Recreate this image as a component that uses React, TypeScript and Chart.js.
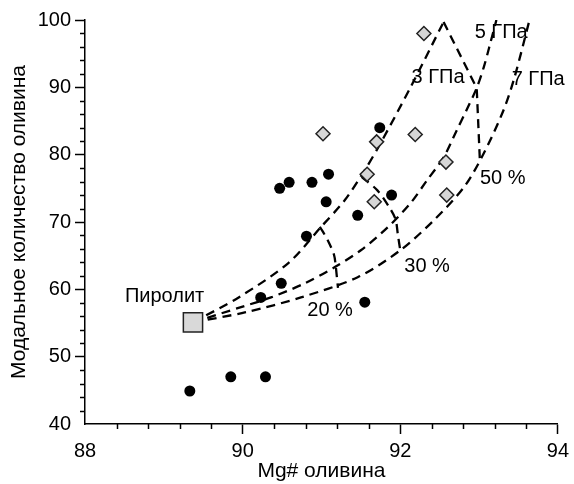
import React, { useEffect, useRef } from "react";
import { Chart, registerables } from "chart.js";

Chart.register(...registerables);

// ---- data ----
const PYROLITE_X = [89.37];
const PYROLITE_Y = [55.1];

const DOT_X = [89.33, 89.85, 90.29, 90.23, 90.49, 90.81, 91.06, 91.46, 91.55, 90.47, 90.59, 90.88, 91.09, 91.74, 91.89];
const DOT_Y = [44.9, 47.0, 47.0, 58.8, 60.9, 67.9, 73.0, 71.0, 58.1, 75.0, 75.9, 75.9, 77.1, 84.0, 74.0];

const DIAMOND_X = [91.02, 92.3, 91.7, 92.19, 91.58, 92.58, 91.67, 92.59];
const DIAMOND_Y = [83.1, 98.0, 81.9, 83.0, 77.1, 78.9, 73.0, 74.0];

// pressure curves (3, 5, 7 GPa)
const P3_X = [89.37, 89.95, 90.58, 90.99, 91.3, 91.55, 91.75, 92.13, 92.55];
const P3_Y = [55.1, 58.8, 63.9, 69.2, 73.3, 77.7, 81.7, 90.0, 99.7];
const P5_X = [89.37, 89.99, 90.36, 90.79, 91.17, 91.5, 91.84, 92.13, 92.34, 92.55, 92.72, 92.84, 92.97, 93.06, 93.13, 93.22];
const P5_Y = [55.1, 57.4, 58.8, 60.9, 63.3, 65.8, 69.2, 72.8, 76.2, 79.6, 83.7, 86.6, 89.9, 93.0, 96.0, 100.0];
const P7_X = [89.37, 90.04, 90.74, 91.46, 92.0, 92.43, 92.81, 93.06, 93.31, 93.45, 93.64];
const P7_Y = [55.1, 56.6, 58.8, 61.8, 65.8, 70.3, 75.2, 80.2, 86.6, 91.5, 100.0];

// melting-degree isopleths (20, 30, 50 %)
const F20_X = [90.98, 91.08, 91.16, 91.18, 91.21];
const F20_Y = [69.3, 67.3, 65.1, 63.6, 60.2];
const F30_X = [91.51, 91.71, 91.86, 91.94, 91.97, 92.0];
const F30_Y = [76.7, 74.7, 72.2, 70.4, 68.1, 65.8];
const F50_X = [92.55, 92.97, 93.01];
const F50_Y = [99.7, 89.9, 79.2];

// in-plot labels (data coordinates)
const LABEL_TEXT = ["Пиролит", "3 ГПа", "5 ГПа", "7 ГПа", "50 %", "30 %", "20 %"];
const LABEL_X = [89.01, 92.48, 93.28, 93.75, 93.3, 92.34, 91.11];
const LABEL_Y = [59.0, 91.5, 98.1, 91.1, 76.4, 63.4, 56.9];

const X_TICKS = [88, 90, 92, 94];
const Y_TICKS = [40, 50, 60, 70, 80, 90, 100];
const X_MINOR_STEP = 0.4;
const Y_MINOR_STEP = 2;

const FONT = "'Liberation Sans', Arial, sans-serif";

const zip = (xs: number[], ys: number[]) => xs.map((x, i) => ({ x, y: ys[i] }));

const minorTicksPlugin = {
  id: "minorTicks",
  afterDraw(chart: any) {
    const { ctx, scales } = chart;
    const x = scales.x;
    const y = scales.y;
    ctx.save();
    ctx.strokeStyle = "#000";
    ctx.lineWidth = 1.5;
    const nx = Math.round((x.max - x.min) / X_MINOR_STEP);
    for (let i = 1; i < nx; i++) {
      const v = x.min + i * X_MINOR_STEP;
      if (X_TICKS.some((t) => Math.abs(t - v) < 1e-6)) continue;
      const px = Math.round(x.getPixelForValue(v)) + 0.5;
      ctx.beginPath();
      ctx.moveTo(px, x.top);
      ctx.lineTo(px, x.top + 5);
      ctx.stroke();
    }
    const ny = Math.round((y.max - y.min) / Y_MINOR_STEP);
    for (let i = 1; i < ny; i++) {
      const v = y.min + i * Y_MINOR_STEP;
      if (Y_TICKS.some((t) => Math.abs(t - v) < 1e-6)) continue;
      const py = Math.round(y.getPixelForValue(v)) + 0.5;
      ctx.beginPath();
      ctx.moveTo(y.right, py);
      ctx.lineTo(y.right - 5, py);
      ctx.stroke();
    }
    ctx.restore();
  },
};

const labelsPlugin = {
  id: "plotLabels",
  afterDatasetsDraw(chart: any) {
    const { ctx, scales } = chart;
    ctx.save();
    ctx.fillStyle = "#000";
    ctx.font = `20px ${FONT}`;
    ctx.textAlign = "center";
    ctx.textBaseline = "middle";
    LABEL_TEXT.forEach((t, i) => {
      ctx.fillText(t, scales.x.getPixelForValue(LABEL_X[i]), scales.y.getPixelForValue(LABEL_Y[i]));
    });
    ctx.restore();
  },
};

const lineDs = (xs: number[], ys: number[], tension: number) => ({
  data: zip(xs, ys),
  showLine: true,
  pointRadius: 0,
  borderColor: "#000",
  borderWidth: 2.3,
  borderDash: [9, 6],
  tension,
  fill: false,
});

export default function App() {
  const ref = useRef<HTMLCanvasElement | null>(null);

  useEffect(() => {
    if (!ref.current) return;
    const chart = new Chart(ref.current, {
      type: "scatter",
      data: {
        datasets: [
          {
            data: zip(PYROLITE_X, PYROLITE_Y),
            pointStyle: "rect",
            pointRadius: 13.6,
            backgroundColor: "#d9d9d9",
            borderColor: "#222",
            borderWidth: 1.5,
          } as any,
          {
            data: zip(DIAMOND_X, DIAMOND_Y),
            pointStyle: "rectRot",
            pointRadius: 7,
            backgroundColor: "#d6d6d6",
            borderColor: "#222",
            borderWidth: 1.5,
          },
          {
            data: zip(DOT_X, DOT_Y),
            pointStyle: "circle",
            pointRadius: 5.5,
            backgroundColor: "#000",
            borderColor: "#000",
            borderWidth: 0,
          },
          lineDs(P3_X, P3_Y, 0.3),
          lineDs(P5_X, P5_Y, 0.3),
          lineDs(P7_X, P7_Y, 0.3),
          lineDs(F20_X, F20_Y, 0.3),
          lineDs(F30_X, F30_Y, 0.3),
          lineDs(F50_X, F50_Y, 0),
        ] as any,
      },
      options: {
        responsive: false,
        animation: false,
        layout: { padding: { top: 20, right: 12, left: 0, bottom: 0 } },
        plugins: { legend: { display: false }, tooltip: { enabled: false } },
        scales: {
          x: {
            type: "linear",
            min: 88,
            max: 94,
            afterBuildTicks: (s: any) => {
              s.ticks = X_TICKS.map((v) => ({ value: v }));
            },
            afterFit: (s: any) => {
              s.height = 60;
            },
            grid: {
              drawOnChartArea: false,
              drawTicks: true,
              tickLength: 10,
              tickWidth: 1.5,
              tickColor: (c: any) => (c.tick && c.tick.value === 88 ? "rgba(0,0,0,0)" : "#000"),
            },
            border: { display: true, color: "#000", width: 1.5 },
            ticks: { color: "#000", font: { family: FONT, size: 20 }, padding: 5, maxRotation: 0, autoSkip: false },
            title: {
              display: true,
              text: "Mg# оливина",
              color: "#000",
              font: { family: FONT, size: 21 },
              padding: { top: 0, bottom: 0 },
            },
          },
          y: {
            type: "linear",
            min: 40,
            max: 100,
            afterBuildTicks: (s: any) => {
              s.ticks = Y_TICKS.map((v) => ({ value: v }));
            },
            afterFit: (s: any) => {
              s.width = 85;
            },
            grid: {
              drawOnChartArea: false,
              drawTicks: true,
              tickLength: 10,
              tickWidth: 1.5,
              tickColor: (c: any) => (c.tick && c.tick.value === 40 ? "rgba(0,0,0,0)" : "#000"),
            },
            border: { display: true, color: "#000", width: 1.5 },
            ticks: { color: "#000", font: { family: FONT, size: 20 }, padding: 4, autoSkip: false },
            title: {
              display: true,
              text: "Модальное количество оливина",
              color: "#000",
              font: { family: FONT, size: 21 },
              padding: { top: 7, bottom: 0 },
            },
          },
        },
      },
      plugins: [minorTicksPlugin, labelsPlugin],
    });
    return () => chart.destroy();
  }, []);

  return (
    <div style={{ position: "absolute", left: 0, top: 0, width: 574, height: 484, background: "#fff" }}>
      <canvas ref={ref} width={574} height={484} style={{ display: "block" }} />
    </div>
  );
}
